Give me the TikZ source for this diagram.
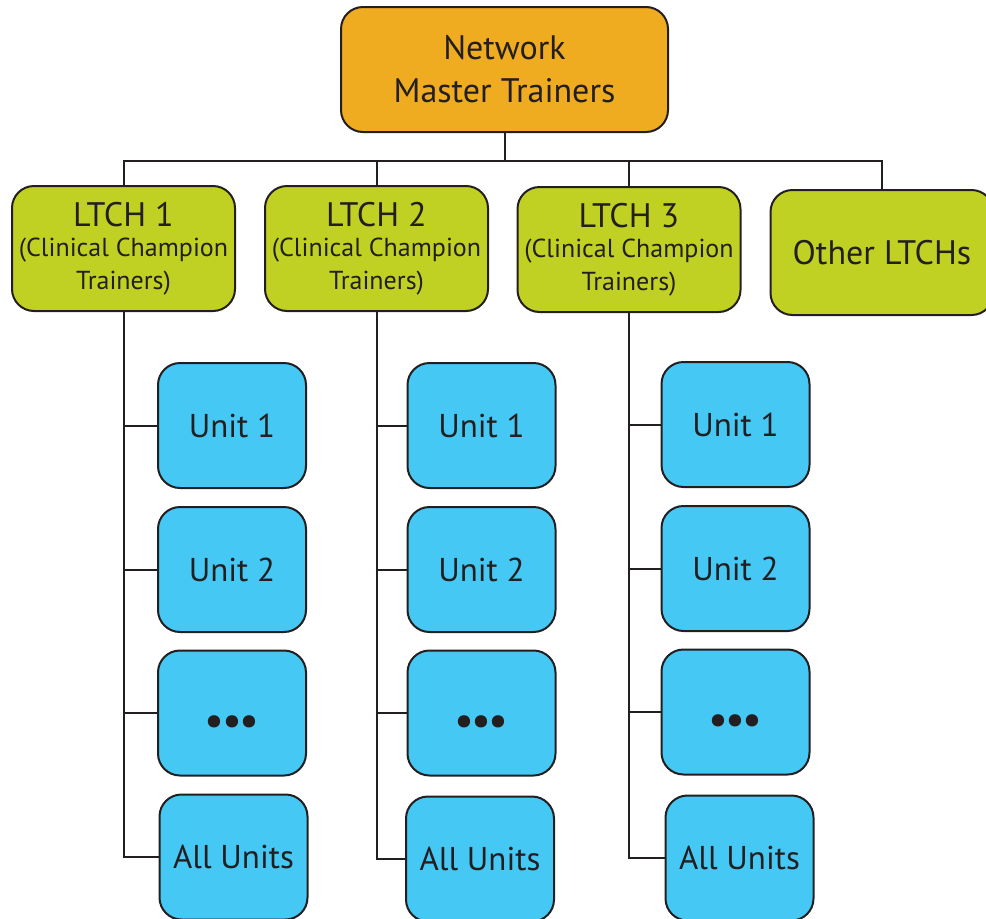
\documentclass[tikz,border=0pt]{standalone}
\usepackage{fontspec}
\setmainfont{PT Sans}
\usetikzlibrary{positioning}

\definecolor{netorange}{RGB}{240,172,32}
\definecolor{ltchgreen}{RGB}{193,209,36}
\definecolor{unitblue}{RGB}{69,200,244}
\definecolor{inkgray}{RGB}{35,31,32}

\tikzset{
  basebox/.style={draw=inkgray,line width=2pt,rounded corners=22pt,inner sep=0pt,
    align=center,text=inkgray},
  masterbox/.style={basebox,fill=netorange,minimum width=327pt,minimum height=125pt,
    font=\fontsize{34}{43}\selectfont},
  ltchbox/.style={basebox,fill=ltchgreen,minimum width=223pt,minimum height=125pt,
    font=\fontsize{34}{33}\selectfont},
  unitbox/.style={basebox,fill=unitblue,minimum width=148pt,minimum height=125pt,
    font=\fontsize{33}{34}\selectfont},
  link/.style={draw=inkgray,line width=2pt}
}
\newcommand{\cctsmall}{\fontsize{26}{30}\selectfont}
\newcommand{\mydots}{\raisebox{-22.5pt}[0pt][0pt]{\fontsize{44}{44}\selectfont\textbullet\kern-2.5pt\textbullet\kern-2.5pt\textbullet}}

\begin{document}
\begin{tikzpicture}[x=1pt,y=-1pt]
  \useasboundingbox (0,0) rectangle (986,919);
  \clip (0,0) rectangle (986,919);
  % top of the tree
  \node[masterbox] (net) at (504.5,69.5) {Network\\Master Trainers};
  \coordinate (bus) at (504.5,161);
  % homes
  \node[ltchbox] (l1) at (123.5,248.5) {LTCH 1\\[-3pt]\cctsmall (Clinical Champion\\\cctsmall Trainers)};
  \node[ltchbox] (l2) at (376.5,248.5) {LTCH 2\\[-3pt]\cctsmall (Clinical Champion\\\cctsmall Trainers)};
  \node[ltchbox] (l3) at (629,249.5) {LTCH 3\\[-3pt]\cctsmall (Clinical Champion\\\cctsmall Trainers)};
  \node[ltchbox] (lo) at (882,252.5) {Other LTCHs};
  \draw[link] (net.south) -- (bus);
  \draw[link] (bus) -| (l1.north);
  \draw[link] (bus) -| (l2.north);
  \draw[link] (bus) -| (l3.north);
  \draw[link] (bus) -| (lo.north);
  % units of LTCH 1
  \node[unitbox] (u11) at (232,425.5) {Unit 1};
  \node[unitbox] (u12) at (232,569.5) {Unit 2};
  \node[unitbox] (u13) at (232,713) {\mydots};
  \node[unitbox] (u14) at (233.5,857) {All Units};
  % units of LTCH 2
  \node[unitbox] (u21) at (481.5,425.5) {Unit 1};
  \node[unitbox] (u22) at (481.5,569.5) {Unit 2};
  \node[unitbox] (u23) at (481.5,713) {\mydots};
  \node[unitbox] (u24) at (480,859) {All Units};
  % units of LTCH 3
  \node[unitbox] (u31) at (735.5,424.5) {Unit 1};
  \node[unitbox] (u32) at (735.5,568.5) {Unit 2};
  \node[unitbox] (u33) at (735.5,712) {\mydots};
  \node[unitbox] (u34) at (739.5,858) {All Units};
  \foreach \c in {1,2,3}{
    \foreach \u in {1,2,3,4}{
      \draw[link] (l\c.south) |- (u\c\u.west);
    }
  }
\end{tikzpicture}
\end{document}
